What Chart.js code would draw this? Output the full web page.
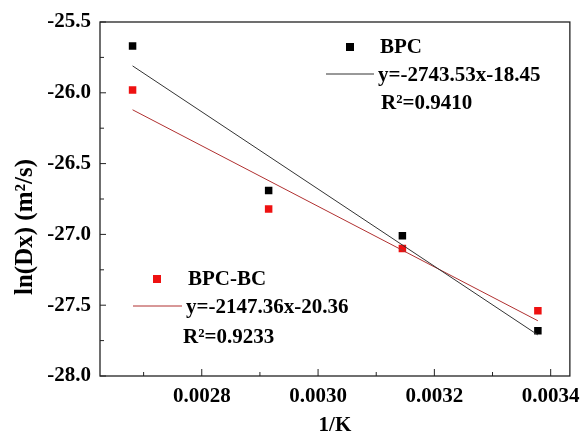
<!DOCTYPE html>
<html lang="en">
<head>
    <meta charset="UTF-8">
    <title>ln(Dx) vs 1/K</title>
    <script src="https://cdn.jsdelivr.net/npm/chart.js"></script>
    <style>
        html, body { margin: 0; padding: 0; background: #fff; }
        .chart-container { width: 588px; height: 432px; position: relative; }
    </style>
</head>
<body>
    <div class="chart-container">
        <canvas id="myChart"></canvas>
    </div>
    <script>
        // 1/T values (x) and ln(Dx) values
        const invTemp = [0.002681, 0.002915, 0.003145, 0.003378];
        const bpc = [-25.67, -26.69, -27.01, -27.68];
        const bpcBc = [-25.98, -26.82, -27.10, -27.54];

        // fitted lines, end points at first and last x
        const fitX = [0.002681, 0.003378];
        const fitBpc = [-25.81, -27.71];
        const fitBpcBc = [-26.12, -27.61];

        const xTicks = [0.0028, 0.0030, 0.0032, 0.0034];
        const xMinor = [0.0027, 0.0029, 0.0031, 0.0033];
        const yTicks = [-28.0, -27.5, -27.0, -26.5, -26.0, -25.5];
        const yMinor = [-27.75, -27.25, -26.75, -26.25, -25.75];

        const serif = "'Liberation Serif', 'Times New Roman', serif";
        const zip = (xs, ys) => xs.map((x, i) => ({ x: x, y: ys[i] }));

        // frame, inward ticks, y title and the two text legends
        const decorPlugin = {
            id: 'decor',
            afterDraw(chart) {
                const ctx = chart.ctx;
                const ca = chart.chartArea;
                const xs = chart.scales.x, ys = chart.scales.y;
                ctx.save();
                ctx.strokeStyle = '#222';
                ctx.lineWidth = 1.3;
                ctx.strokeRect(ca.left, ca.top, ca.right - ca.left, ca.bottom - ca.top);

                ctx.lineWidth = 1;
                ctx.beginPath();
                xTicks.forEach(v => { const p = xs.getPixelForValue(v); ctx.moveTo(p, ca.bottom); ctx.lineTo(p, ca.bottom - 7); });
                xMinor.forEach(v => { const p = xs.getPixelForValue(v); ctx.moveTo(p, ca.bottom); ctx.lineTo(p, ca.bottom - 4); });
                yTicks.forEach(v => { const p = ys.getPixelForValue(v); ctx.moveTo(ca.left, p); ctx.lineTo(ca.left + 6, p); });
                yMinor.forEach(v => { const p = ys.getPixelForValue(v); ctx.moveTo(ca.left, p); ctx.lineTo(ca.left + 4, p); });
                ctx.stroke();

                // y axis title, sits a bit below the middle like the original
                ctx.save();
                ctx.translate(26, 227);
                ctx.rotate(-Math.PI / 2);
                ctx.font = 'bold 25px ' + serif;
                ctx.fillStyle = '#000';
                ctx.textAlign = 'center';
                ctx.textBaseline = 'middle';
                ctx.fillText('ln(Dx) (m²/s)', 0, 0);
                ctx.restore();

                ctx.font = 'bold 21px ' + serif;
                ctx.textBaseline = 'middle';
                ctx.textAlign = 'left';

                // BPC legend
                ctx.fillStyle = '#000';
                ctx.fillRect(346, 43, 8, 8);
                ctx.fillText('BPC', 380, 48);
                ctx.strokeStyle = '#333';
                ctx.beginPath(); ctx.moveTo(326, 74); ctx.lineTo(374, 74); ctx.stroke();
                ctx.fillText('y=-2743.53x-18.45', 378, 76);
                ctx.fillText('R²=0.9410', 381, 104);

                // BPC-BC legend
                ctx.fillStyle = '#ee1111';
                ctx.fillRect(153, 275, 8, 8);
                ctx.fillStyle = '#000';
                ctx.fillText('BPC-BC', 188, 280);
                ctx.strokeStyle = '#b03030';
                ctx.beginPath(); ctx.moveTo(133, 306); ctx.lineTo(182, 306); ctx.stroke();
                ctx.fillText('y=-2147.36x-20.36', 186, 308);
                ctx.fillText('R²=0.9233', 183, 338);
                ctx.restore();
            }
        };

        const config = {
            data: {
                datasets: [
                    {
                        type: 'line',
                        label: 'BPC fit',
                        data: zip(fitX, fitBpc),
                        borderColor: '#333',
                        borderWidth: 1,
                        pointRadius: 0
                    },
                    {
                        type: 'line',
                        label: 'BPC-BC fit',
                        data: zip(fitX, fitBpcBc),
                        borderColor: '#b03030',
                        borderWidth: 1,
                        pointRadius: 0
                    },
                    {
                        type: 'scatter',
                        label: 'BPC',
                        data: zip(invTemp, bpc),
                        pointStyle: 'rect',
                        pointRadius: 5.3,
                        borderWidth: 0,
                        backgroundColor: '#000'
                    },
                    {
                        type: 'scatter',
                        label: 'BPC-BC',
                        data: zip(invTemp, bpcBc),
                        pointStyle: 'rect',
                        pointRadius: 5.3,
                        borderWidth: 0,
                        backgroundColor: '#ee1111'
                    }
                ]
            },
            options: {
                responsive: true,
                maintainAspectRatio: false,
                animation: false,
                layout: { padding: { top: 22, right: 11, left: 0, bottom: 0 } },
                plugins: {
                    legend: { display: false },
                    tooltip: { enabled: false }
                },
                scales: {
                    x: {
                        type: 'linear',
                        min: 0.002625,
                        max: 0.003433,
                        afterBuildTicks: s => { s.ticks = xTicks.map(v => ({ value: v })); },
                        afterFit: s => { s.height = 56; },
                        grid: { display: false, drawTicks: false },
                        border: { display: false },
                        ticks: {
                            padding: 8,
                            color: '#000',
                            font: { family: serif, size: 21, weight: 'bold' },
                            callback: v => v.toFixed(4)
                        },
                        title: {
                            display: true,
                            text: '1/K',
                            color: '#000',
                            padding: { top: 0, bottom: -6 },
                            font: { family: serif, size: 21, weight: 'bold' }
                        }
                    },
                    y: {
                        type: 'linear',
                        min: -28.0,
                        max: -25.5,
                        afterBuildTicks: s => { s.ticks = yTicks.map(v => ({ value: v })); },
                        afterFit: s => { s.width = 100; },
                        grid: { display: false, drawTicks: false },
                        border: { display: false },
                        ticks: {
                            padding: 9,
                            color: '#000',
                            font: { family: serif, size: 21, weight: 'bold' },
                            callback: v => v.toFixed(1)
                        },
                        title: { display: false }
                    }
                }
            },
            plugins: [decorPlugin]
        };

        const myChart = new Chart(document.getElementById('myChart'), config);
    </script>
</body>
</html>
